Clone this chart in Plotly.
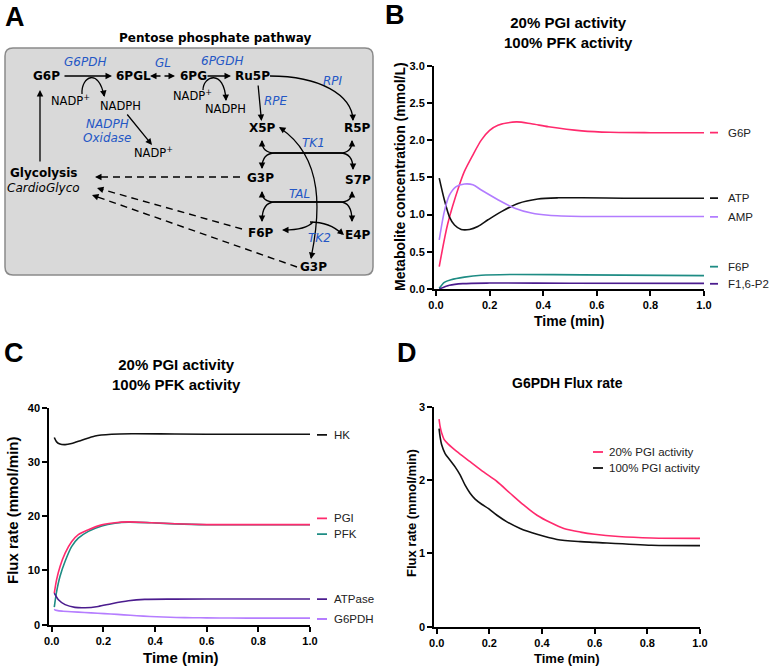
import plotly.graph_objects as go

W, H = 769, 669
PINK = "#ff2a6d"
BLACK = "#111111"
AMPC = "#b27cff"
TEAL = "#1e8c84"
DPURP = "#4b1c8e"
LPURP = "#b57dff"
BLUE = "#2457c5"
FONT = "Liberation Sans, Arial, sans-serif"
DFONT = "DejaVu Sans, sans-serif"

# ---------------- Panel B data: metabolite concentration (mmol/L)
b_g6p_t = [0.012, 0.044, 0.0875, 0.106, 0.1375, 0.169, 0.2, 0.231, 0.3, 0.356, 0.42, 0.544, 0.65, 0.8, 1.0]
b_g6p_v = [0.30, 0.88, 1.40, 1.58, 1.80, 2.0, 2.13, 2.20, 2.245, 2.22, 2.18, 2.125, 2.105, 2.10, 2.10]
b_atp_t = [0.012, 0.031, 0.05, 0.069, 0.094, 0.125, 0.156, 0.194, 0.244, 0.306, 0.38, 0.456, 0.544, 0.7, 1.0]
b_atp_v = [1.49, 1.20, 0.97, 0.86, 0.80, 0.80, 0.84, 0.93, 1.04, 1.15, 1.21, 1.225, 1.225, 1.22, 1.22]
b_amp_t = [0.012, 0.031, 0.05, 0.075, 0.106, 0.1375, 0.169, 0.231, 0.294, 0.356, 0.42, 0.544, 0.7, 1.0]
b_amp_v = [0.66, 1.04, 1.26, 1.375, 1.41, 1.40, 1.33, 1.20, 1.085, 1.02, 0.99, 0.975, 0.975, 0.975]
b_f6p_t = [0.012, 0.031, 0.056, 0.106, 0.169, 0.294, 0.544, 1.0]
b_f6p_v = [0.01, 0.09, 0.125, 0.16, 0.185, 0.195, 0.19, 0.18]
b_fbp_t = [0.012, 0.05, 0.1, 0.2, 0.5, 1.0]
b_fbp_v = [0.0, 0.05, 0.072, 0.08, 0.078, 0.075]
b_labels = ["G6P", "ATP", "AMP", "F6P", "F1,6-P2"]
b_label_y = [2.10, 1.22, 0.97, 0.30, 0.07]

# ---------------- Panel C data: flux rate (mmol/min)
c_hk_t = [0.01, 0.019, 0.032, 0.052, 0.077, 0.116, 0.168, 0.232, 0.31, 0.477, 0.7, 1.0]
c_hk_v = [34.5, 33.7, 33.3, 33.2, 33.4, 34.0, 34.8, 35.1, 35.2, 35.15, 35.1, 35.1]
c_pgi_t = [0.01, 0.019, 0.032, 0.052, 0.077, 0.103, 0.142, 0.194, 0.245, 0.297, 0.387, 0.477, 0.6, 0.8, 1.0]
c_pgi_v = [5.8, 8.3, 10.7, 13.2, 15.3, 16.6, 17.5, 18.4, 18.8, 18.96, 18.8, 18.6, 18.45, 18.45, 18.45]
c_pfk_t = [0.01, 0.019, 0.032, 0.052, 0.077, 0.103, 0.142, 0.194, 0.245, 0.297, 0.387, 0.477, 0.6, 0.8, 1.0]
c_pfk_v = [3.25, 6.1, 8.9, 11.7, 14.4, 15.95, 17.2, 18.2, 18.7, 18.9, 18.78, 18.58, 18.43, 18.43, 18.43]
c_atpase_t = [0.01, 0.026, 0.052, 0.09, 0.129, 0.18, 0.232, 0.297, 0.36, 0.477, 0.7, 1.0]
c_atpase_v = [5.8, 4.6, 3.7, 3.2, 3.13, 3.37, 3.87, 4.4, 4.66, 4.72, 4.75, 4.75]
c_labels = ["HK", "PGI", "PFK", "ATPase", "G6PDH"]
c_label_y = [35.0, 19.6, 16.7, 4.7, 1.05]

# ---------------- Panel D data: G6PDH flux rate
d_20_t = [0.009, 0.013, 0.019, 0.028, 0.044, 0.076, 0.127, 0.178, 0.229, 0.279, 0.33, 0.381, 0.432,
          0.483, 0.546, 0.6, 0.69, 0.816, 1.0]
d_20_v = [2.83, 2.73, 2.64, 2.555, 2.49, 2.39, 2.25, 2.11, 1.98, 1.82, 1.66, 1.52, 1.42,
          1.34, 1.29, 1.26, 1.23, 1.21, 1.205]
d_100_t = [0.009, 0.013, 0.019, 0.032, 0.051, 0.07, 0.089, 0.108, 0.127, 0.146, 0.171, 0.197, 0.229,
           0.267, 0.317, 0.381, 0.457, 0.546, 0.6, 0.816, 1.0]
d_100_v = [2.70, 2.59, 2.48, 2.36, 2.27, 2.18, 2.07, 1.93, 1.82, 1.74, 1.67, 1.61, 1.52,
           1.43, 1.34, 1.26, 1.19, 1.16, 1.15, 1.11, 1.105]
d_legend = ["20% PGI activity", "100% PGI activity"]

x_ticks = [0.0, 0.2, 0.4, 0.6, 0.8, 1.0]
b_yticks = [0.0, 0.5, 1.0, 1.5, 2.0, 2.5, 3.0]
c_yticks = [0, 10, 20, 30, 40]
d_yticks = [0, 1, 2, 3]

# ---------------- Diagram (panel A) content, positions in pixels of the figure
nodes = [("G6P", 46.5, 76), ("6PGL", 133, 76), ("6PG", 193, 76), ("Ru5P", 252, 76),
         ("X5P", 262, 128), ("R5P", 357, 128), ("G3P", 260, 178), ("S7P", 358, 180),
         ("F6P", 261, 233), ("E4P", 358, 235), ("G3P", 313, 267), ("Glycolysis", 43, 173)]
enzymes = [("G6PDH", 85, 62), ("GL", 163, 63), ("6PGDH", 222, 61), ("RPI", 333, 81),
           ("RPE", 276, 101), ("NADPH", 107, 124), ("Oxidase", 107, 138), ("TK1", 313, 143),
           ("TAL", 299, 194), ("TK2", 319, 238)]
cofactors = [("NADP<sup>+</sup>", 70, 100), ("NADPH", 120, 106), ("NADP<sup>+</sup>", 153, 152),
             ("NADP<sup>+</sup>", 192, 95), ("NADPH", 225, 109)]

fig = go.Figure()

def line(t, v, color, xa, ya, name):
    fig.add_trace(go.Scatter(x=t, y=v, mode="lines", name=name, xaxis=xa, yaxis=ya,
                             line=dict(color=color, width=1.6, shape="spline", smoothing=0.8),
                             showlegend=False, hoverinfo="skip"))

line(b_g6p_t, b_g6p_v, PINK, "x", "y", "G6P")
line(b_atp_t, b_atp_v, BLACK, "x", "y", "ATP")
line(b_amp_t, b_amp_v, AMPC, "x", "y", "AMP")
line(b_f6p_t, b_f6p_v, TEAL, "x", "y", "F6P")
line(b_fbp_t, b_fbp_v, DPURP, "x", "y", "F1,6-P2")

line(c_hk_t, c_hk_v, BLACK, "x2", "y2", "HK")
line(c_pfk_t, c_pfk_v, TEAL, "x2", "y2", "PFK")
line(c_pgi_t, c_pgi_v, PINK, "x2", "y2", "PGI")
line(c_atpase_t, c_atpase_v, DPURP, "x2", "y2", "ATPase")
line(d_20_t, d_20_v, LPURP, "x2", "y2", "G6PDH")

line(d_20_t, d_20_v, PINK, "x3", "y3", d_legend[0])
line(d_100_t, d_100_v, BLACK, "x3", "y3", d_legend[1])

fig.add_trace(go.Scatter(x=[], y=[], xaxis="x4", yaxis="y4", showlegend=False))

def axis(domain, rng, ticks, fmt, anchor):
    return dict(domain=domain, range=rng, showline=True, linewidth=2, linecolor="black",
                ticks="outside", ticklen=5, tickwidth=1.5, tickcolor="black",
                showgrid=False, zeroline=False, tickvals=ticks, tickformat=fmt,
                tickfont=dict(family=FONT, size=11, color="black", weight="bold"),
                fixedrange=True, automargin=False, anchor=anchor)

ann = []
shapes = []

def px(x):
    return x / W

def py(y):
    return 1 - y / H

def text(t, x, y, size, bold=True, angle=0, family=FONT, color="black"):
    ann.append(dict(text=t, x=px(x), y=py(y), xref="paper", yref="paper", showarrow=False,
                    textangle=angle, xanchor="center", yanchor="middle",
                    font=dict(family=family, size=size, color=color,
                              weight="bold" if bold else "normal")))

# panel letters
text("A", 15, 17, 27)
text("B", 395, 15, 27)
text("C", 14, 353, 27)
text("D", 407, 353, 27)

# titles
text("20% PGI activity<br>100% PFK activity", 568, 32.5, 15)
text("20% PGI activity<br>100% PFK activity", 176, 375, 15)
text("G6PDH Flux rate", 567, 383, 14)
# axis titles
text("Metabolite concentration (mmol/L)", 400, 177, 14, angle=-90)
text("Flux rate (mmol/min)", 12, 510, 15, angle=-90)
text("Flux rate (mmol/min)", 411, 513, 13, angle=-90)
text("Time (min)", 569, 321, 14)
text("Time (min)", 181, 657, 15)
text("Time (min)", 567, 658, 13)

# end-of-line labels with short coloured keys
def key(xa, xb, yv, yref, col):
    shapes.append(dict(type="line", xref="paper", yref=yref, x0=px(xa), x1=px(xb), y0=yv, y1=yv,
                       line=dict(color=col, width=1.8)))

for lab, yv, col in zip(b_labels, b_label_y, [PINK, BLACK, AMPC, TEAL, DPURP]):
    key(710, 718, yv, "y", col)
    ann.append(dict(text=lab, x=px(726), y=yv, xref="paper", yref="y",
                    xanchor="left", yanchor="middle", showarrow=False,
                    font=dict(family=FONT, size=11.5, color="#222")))
for lab, yv, col in zip(c_labels, c_label_y, [BLACK, PINK, TEAL, DPURP, LPURP]):
    key(317, 327, yv, "y2", col)
    ann.append(dict(text=lab, x=px(332), y=yv, xref="paper", yref="y2",
                    xanchor="left", yanchor="middle", showarrow=False,
                    font=dict(family=FONT, size=11.5, color="#222")))
for lab, yy, col in zip(d_legend, [452, 468], [PINK, BLACK]):
    key(593, 603, py(yy), "paper", col)
    ann.append(dict(text=lab, x=px(607), y=py(yy),
                    xref="paper", yref="paper", xanchor="left", yanchor="middle", showarrow=False,
                    font=dict(family=FONT, size=11.5, color="#222")))

# ---------------- diagram
r = 8
x0, y0, x1, y1 = 5, 48, 373, 275
shapes.append(dict(type="path", xref="x4", yref="y4", layer="below",
                   path=(f"M {x0+r},{y0} L {x1-r},{y0} Q {x1},{y0} {x1},{y0+r} L {x1},{y1-r} "
                         f"Q {x1},{y1} {x1-r},{y1} L {x0+r},{y1} Q {x0},{y1} {x0},{y1-r} "
                         f"L {x0},{y0+r} Q {x0},{y0} {x0+r},{y0} Z"),
                   fillcolor="#d9d9d9", line=dict(color="#8a8a8a", width=1.5)))

def dtext(t, x, y, size=12, bold=False, italic=False, color="black"):
    ann.append(dict(text=t, x=x, y=y, xref="x4", yref="y4", showarrow=False,
                    xanchor="center", yanchor="middle",
                    font=dict(family=DFONT, size=size, color=color,
                              weight="bold" if bold else "normal",
                              style="italic" if italic else "normal")))

dtext("Pentose phosphate pathway", 215, 38, 12, bold=True)
for t, x, y in nodes:
    dtext(t, x, y, 12, bold=True)
dtext("CardioGlyco", 43, 188, 12, italic=True)
for t, x, y in enzymes:
    dtext(t, x, y, 12, italic=True, color=BLUE)
for t, x, y in cofactors:
    dtext(t, x, y, 11.5)

def head(x, y, fx, fy):
    ann.append(dict(x=x, y=y, ax=fx, ay=fy, xref="x4", yref="y4", axref="x4", ayref="y4",
                    showarrow=True, arrowhead=2, arrowsize=1, arrowwidth=1.3,
                    arrowcolor="black", text=""))

def straight(xa, ya, xb, yb):
    head(xb, yb, xa, ya)

def curve(path, w=1.3, dash="solid"):
    shapes.append(dict(type="path", xref="x4", yref="y4", path=path,
                       line=dict(color="black", width=w, dash=dash)))

def tip(x, y, cx, cy, n=4):
    dx, dy = x - cx, y - cy
    d = (dx * dx + dy * dy) ** 0.5
    head(x, y, x - dx / d * n, y - dy / d * n)

straight(63, 76, 112, 76)
curve("M 82,94 C 81,76 99,68 104,96")
tip(104.5, 97, 102, 84)
head(150, 76, 162, 76)
head(175, 76, 163, 76)
straight(206, 76, 231, 76)
curve("M 203,90 C 203,76 224,68 226,100")
tip(226, 101, 225.5, 88)
straight(126, 113, 152, 145)
straight(258, 84, 261.5, 121)
curve("M 270,76 C 320,76 352,95 353,120")
tip(353, 121, 352.5, 108)
straight(40, 163, 40, 90)
# dashed arrows into glycolysis
for (xa, ya, xb, yb) in [(240, 177, 95, 177), (242, 229, 97, 188), (297, 267, 92, 195)]:
    curve(f"M {xa},{ya} L {xb+4},{yb + (ya-yb)*4/(xa-xb)}", w=1.4, dash="7px,5px")
    tip(xb, yb, xa, ya)
# TK1
curve("M 262,141 Q 262,153 275,153 L 340,153 Q 353,153 353,169")
curve("M 352,141 Q 352,153 340,153 L 275,153 Q 262,153 262,168")
tip(262, 140, 262, 150)
tip(352, 140, 352, 150)
tip(262, 169, 262, 158)
tip(353, 170, 353, 158)
# TAL
curve("M 262,192 Q 262,202 275,202 L 340,202 Q 352,202 352,221")
curve("M 352,192 Q 352,202 340,202 L 275,202 Q 262,202 262,221")
tip(262, 191, 262, 200)
tip(352, 191, 352, 200)
tip(262, 222, 262, 210)
tip(352, 222, 352, 210)
# TK2
curve("M 280,128 C 325,158 320,215 311,258")
tip(279, 127, 290, 134)
tip(311, 259, 313, 248)
curve("M 313,222 Q 306,230 284,230")
tip(282, 230, 292, 230)
curve("M 310,222 Q 330,222 342,234")
tip(344, 235, 336, 228)

fig.update_layout(
    width=W, height=H, margin=dict(l=0, r=0, t=0, b=0, pad=0, autoexpand=False),
    paper_bgcolor="white", plot_bgcolor="rgba(0,0,0,0)",
    xaxis=axis([434 / W, 704 / W], [-0.0075, 1.0], x_ticks, ".1f", "y"),
    yaxis=axis([1 - 289 / H, 1 - 65.7 / H], [0, 3], b_yticks, ".1f", "x"),
    xaxis2=axis([49.3 / W, 310 / W], [-0.0093, 1.0], x_ticks, ".1f", "y2"),
    yaxis2=axis([1 - 624.7 / H, 1 - 407.7 / H], [0, 40], c_yticks, "d", "x2"),
    xaxis3=axis([434.3 / W, 700 / W], [-0.009, 1.0], x_ticks, ".1f", "y3"),
    yaxis3=axis([1 - 626.7 / H, 1 - 406.7 / H], [0, 3], d_yticks, "d", "x3"),
    xaxis4=dict(domain=[0, 1], range=[0, W], visible=False, fixedrange=True, anchor="y4", automargin=False),
    yaxis4=dict(domain=[0, 1], range=[H, 0], visible=False, fixedrange=True, anchor="x4", automargin=False),
    annotations=ann, shapes=shapes, showlegend=False,
)

fig.write_html("out.html", config={"displayModeBar": False},
               post_script="document.body.style.margin='0';document.body.style.padding='0';"
                           "document.body.style.overflow='hidden';")
